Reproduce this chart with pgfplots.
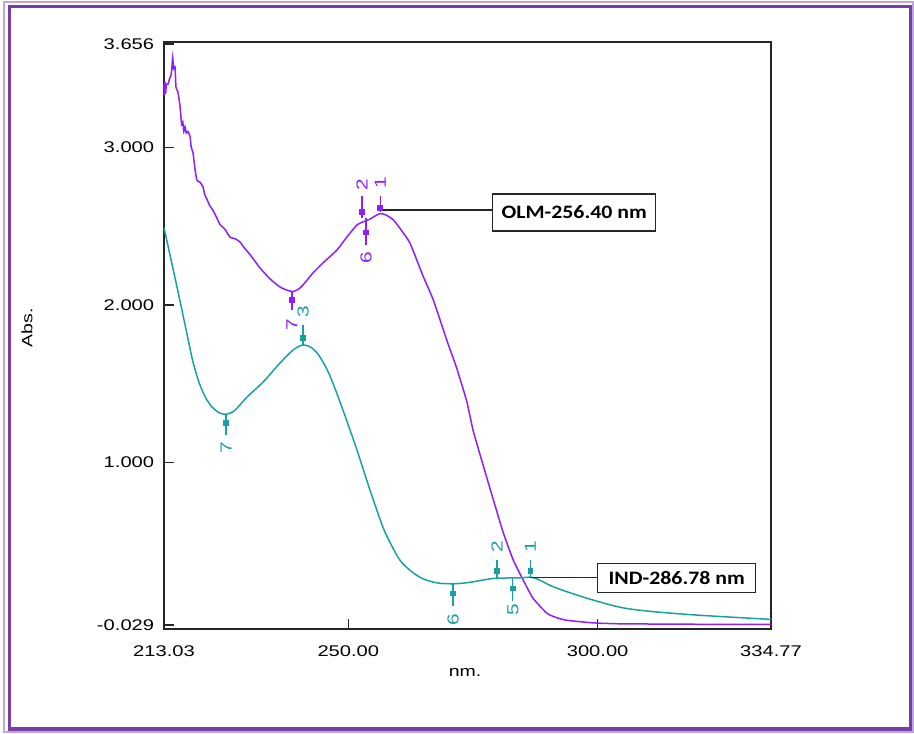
\documentclass[border=0pt]{standalone}
\usepackage{pgfplots}
\pgfplotsset{compat=1.18}
\usepackage{fontspec}
\setmainfont{Liberation Sans}[FakeStretch=1.3]
\newfontfamily\calib{Carlito}[FakeStretch=1.15]
\definecolor{olm}{RGB}{140,30,255}
\definecolor{ind}{RGB}{25,160,160}
\definecolor{framec}{RGB}{118,60,168}
\definecolor{framel}{RGB}{190,165,220}

\pgfplotstableread{
nm abs
213.03 3.40
213.10 3.33
213.20 3.42
213.35 3.34
213.50 3.40
213.83 3.40
214.10 3.43
214.45 3.46
214.60 3.50
214.77 3.57
214.95 3.50
215.24 3.51
215.44 3.38
215.84 3.35
216.24 3.26
216.58 3.14
216.80 3.16
217.00 3.10
217.24 3.13
217.50 3.09
217.84 3.10
218.24 3.07
218.50 3.00
218.85 2.965
219.30 2.85
219.65 2.79
220.20 2.78
220.85 2.75
221.20 2.70
221.65 2.67
222.20 2.63
222.86 2.60
223.50 2.56
224.26 2.51
225.26 2.48
226.27 2.43
227.30 2.42
228.27 2.40
229.20 2.36
230.28 2.32
232.28 2.235
234.29 2.165
236.30 2.114
237.60 2.095
238.90 2.085
240.00 2.10
240.91 2.127
242.91 2.203
244.92 2.267
247.73 2.349
249.73 2.432
251.74 2.508
252.94 2.527
254.35 2.545
255.40 2.565
256.40 2.58
257.60 2.57
259.02 2.54
260.50 2.48
262.37 2.392
265.03 2.18
267.04 2.032
269.73 1.778
271.73 1.600
273.74 1.390
275.06 1.200
277.07 0.980
279.08 0.765
281.08 0.555
283.09 0.381
285.09 0.254
287.04 0.140
289.85 0.044
291.85 0.016
293.86 0.0
299.07 -0.016
304.49 -0.022
320.53 -0.025
334.77 -0.025
}\olmdata

\pgfplotstableread{
nm abs
213.03 2.489
214.63 2.260
216.24 2.025
217.64 1.816
218.85 1.638
220.25 1.492
221.65 1.397
222.86 1.346
224.26 1.314
225.67 1.308
227.27 1.333
229.68 1.416
232.89 1.511
236.30 1.632
238.90 1.714
240.91 1.746
242.71 1.727
244.32 1.670
246.32 1.550
248.93 1.333
251.74 1.079
254.35 0.825
256.95 0.590
258.76 0.470
260.36 0.381
262.37 0.317
264.37 0.273
266.38 0.248
268.38 0.235
271.39 0.232
274.40 0.241
277.81 0.260
279.82 0.267
284.43 0.270
286.78 0.273
288.44 0.254
290.45 0.222
293.06 0.190
297.87 0.140
304.49 0.083
310.50 0.057
320.53 0.032
334.77 0.006
}\inddata

\begin{document}
\begin{tikzpicture}
\begin{axis}[
  name=ax, at={(0,0)}, anchor=south west,
  scale only axis, width=303.5pt, height=293.5pt,
  xmin=213.03, xmax=334.77, ymin=-0.055, ymax=3.668,
  axis line style={line width=0.75pt, black!85},
  xtick={213.03,250,300,334.77},
  xticklabels={213.03,250.00,300.00,334.77},
  ytick={-0.029,1,2,3,3.656},
  yticklabels={-0.029,1.000,2.000,3.000,3.656},
  tick align=inside, xtick pos=bottom, ytick pos=left,
  major tick length=5pt,
  tick style={line width=0.75pt, black!85},
  ticklabel style={font=\fontsize{7.75}{9}\selectfont},
  xticklabel style={yshift=-5pt},
  yticklabel style={xshift=-1.4pt},
  clip=false,
]
\addplot[olm, line width=0.75pt, smooth, tension=0.3] table[x=nm,y=abs] {\olmdata};
\addplot[ind, line width=0.75pt, smooth, tension=0.5] table[x=nm,y=abs] {\inddata};

% peak-pick markers (purple)
\draw[olm, line width=0.6pt] (axis cs:256.40,2.69) -- (axis cs:256.40,2.59);
\draw[olm, line width=0.6pt] (axis cs:252.74,2.69) -- (axis cs:252.74,2.55);
\draw[olm, line width=0.6pt] (axis cs:253.55,2.55) -- (axis cs:253.55,2.38);
\draw[olm, line width=0.6pt] (axis cs:238.70,2.08) -- (axis cs:238.70,1.97);
\addplot[olm, only marks, mark=square*, mark size=1.2pt] coordinates {(256.40,2.616) (252.74,2.59) (253.55,2.46) (238.70,2.03)};
% peak-pick markers (teal)
\draw[ind, line width=0.6pt] (axis cs:240.91,1.873) -- (axis cs:240.91,1.746);
\draw[ind, line width=0.6pt] (axis cs:225.47,1.302) -- (axis cs:225.47,1.175);
\draw[ind, line width=0.6pt] (axis cs:271.00,0.229) -- (axis cs:271.00,0.089);
\draw[ind, line width=0.6pt] (axis cs:279.80,0.381) -- (axis cs:279.80,0.267);
\draw[ind, line width=0.6pt] (axis cs:283.00,0.267) -- (axis cs:283.00,0.121);
\draw[ind, line width=0.6pt] (axis cs:286.50,0.381) -- (axis cs:286.50,0.273);
\addplot[ind, only marks, mark=square*, mark size=1.2pt] coordinates {(240.91,1.79) (225.47,1.25) (271.00,0.171) (279.80,0.311) (283.00,0.203) (286.50,0.311)};

\begin{scope}[font=\fontsize{8}{9}\selectfont]
\node[rotate=90, text=olm] at (axis cs:256.40,2.775) {1};
\node[rotate=90, text=olm] at (axis cs:252.74,2.76) {2};
\node[rotate=90, text=olm] at (axis cs:253.55,2.30) {6};
\node[rotate=90, text=olm] at (axis cs:238.70,1.873) {7};
\node[rotate=90, text=ind] at (axis cs:240.91,1.956) {3};
\node[rotate=90, text=ind] at (axis cs:225.47,1.092) {7};
\node[rotate=90, text=ind] at (axis cs:271.00,0.006) {6};
\node[rotate=90, text=ind] at (axis cs:279.80,0.47) {2};
\node[rotate=90, text=ind] at (axis cs:283.00,0.07) {5};
\node[rotate=90, text=ind] at (axis cs:286.50,0.47) {1};
\end{scope}

% callouts
\draw[black!85, line width=0.6pt] (axis cs:256.40,2.603) -- (axis cs:278.81,2.603);
\node[draw=black!85, line width=0.75pt, fill=white, minimum width=81.5pt, minimum height=18.5pt, inner sep=0pt, anchor=west, font=\calib\bfseries\fontsize{9.5}{11}\selectfont] at (axis cs:278.81,2.587) {OLM-256.40 nm};
\draw[black!85, line width=0.6pt] (axis cs:286.50,0.273) -- (axis cs:299.87,0.273);
\node[draw=black!85, line width=0.75pt, fill=white, minimum width=79pt, minimum height=14.5pt, inner sep=0pt, anchor=west, font=\calib\bfseries\fontsize{9.5}{11}\selectfont] at (axis cs:299.87,0.27) {IND-286.78 nm};
\end{axis}

\pgfresetboundingbox
\path[use as bounding box] ([xshift=-82pt,yshift=-52pt]ax.south west) rectangle ++(457pt,366.5pt);
\begin{scope}[shift={([xshift=-82pt,yshift=314.5pt]ax.south west)}, x=0.5pt, y=-0.5pt]
  \draw[framel, line width=0.6pt] (4,2) rectangle (913,732);
  \draw[framec, line width=1.8pt] (9.5,6.5) rectangle (910.5,729);
  \node[rotate=90, font=\fontsize{7.5}{9}\selectfont] at (27,328) {Abs.};
  \node[font=\fontsize{7.5}{9}\selectfont] at (465,672) {nm.};
\end{scope}
\end{tikzpicture}
\end{document}
